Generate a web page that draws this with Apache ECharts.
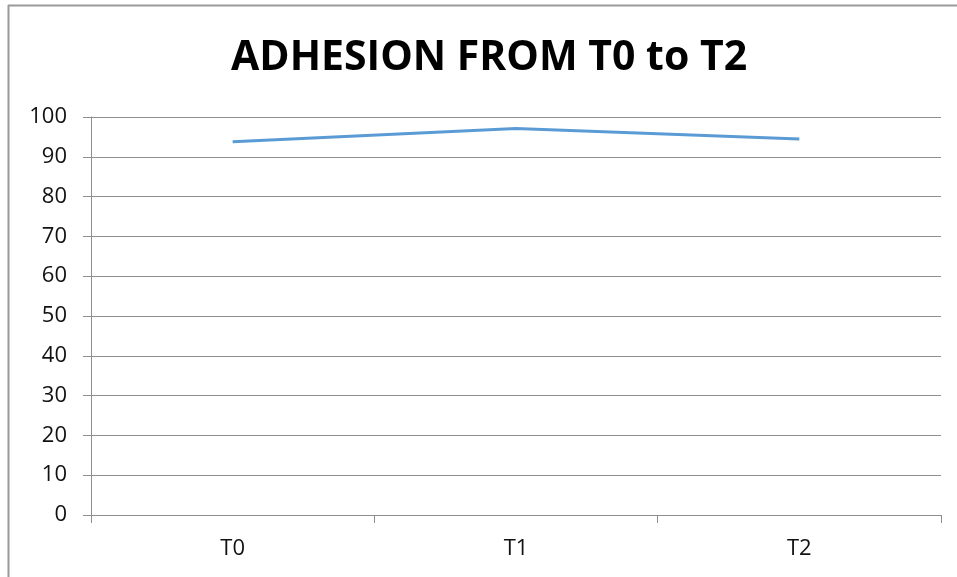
<!DOCTYPE html>
<html>
<head>
<meta charset="utf-8">
<script src="https://cdn.jsdelivr.net/npm/echarts@6/dist/echarts.min.js"></script>
<style>
  html, body { margin: 0; padding: 0; background: #fff; }
  #chart { width: 957px; height: 577px; }
</style>
</head>
<body>
<div id="chart"></div>
<script>
// Adhesion measured at three time points
const categories = ['T0', 'T1', 'T2'];
const adhesion = [93.8, 97.1, 94.5];
const yTicks = { min: 0, max: 100, interval: 10 };

const chart = echarts.init(document.getElementById('chart'), null, { renderer: 'canvas' });
const gridColor = '#8e8e8e';
const textColor = '#111111';
const font = 'Open Sans, Liberation Sans, sans-serif';

chart.setOption({
  animation: false,
  backgroundColor: '#ffffff',
  title: {
    text: 'ADHESION FROM T0 to T2',
    left: 226,
    top: 33,
    textStyle: {
      fontFamily: font,
      fontWeight: 'bold',
      fontSize: 41,
      color: '#000000'
    }
  },
  grid: { left: 91, right: 16, top: 117, bottom: 62, containLabel: false },
  xAxis: {
    type: 'category',
    data: categories,
    boundaryGap: true,
    axisLine: { show: true, lineStyle: { color: gridColor, width: 1 } },
    axisTick: { show: true, interval: 0, length: 8, inside: false, lineStyle: { color: gridColor } },
    axisLabel: { color: textColor, fontFamily: font, fontSize: 22, margin: 23 },
    splitLine: { show: false }
  },
  yAxis: {
    type: 'value',
    min: yTicks.min,
    max: yTicks.max,
    interval: yTicks.interval,
    axisLine: { show: true, lineStyle: { color: gridColor, width: 1 } },
    axisTick: { show: true, length: 8, inside: false, lineStyle: { color: gridColor } },
    axisLabel: { color: textColor, fontFamily: font, fontSize: 22, margin: 24 },
    splitLine: { show: true, lineStyle: { color: gridColor, width: 1 } }
  },
  series: [{
    type: 'line',
    data: adhesion,
    symbol: 'none',
    lineStyle: { color: '#5b9bd5', width: 3 },
    itemStyle: { color: '#5b9bd5' }
  }],
  graphic: [
    { type: 'line', shape: { x1: 8.5, y1: 5, x2: 8.5, y2: 577 }, style: { stroke: '#9a9a9a', lineWidth: 2 } },
    { type: 'line', shape: { x1: 8, y1: 5.5, x2: 957, y2: 5.5 }, style: { stroke: '#9a9a9a', lineWidth: 2 } }
  ]
});
</script>
</body>
</html>
